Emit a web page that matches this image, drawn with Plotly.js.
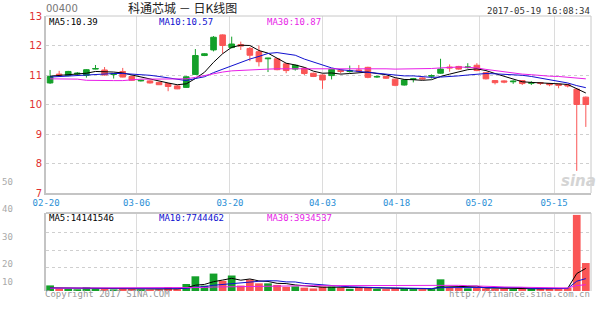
<!DOCTYPE html>
<html><head><meta charset="utf-8">
<script src="https://cdn.plot.ly/plotly-3.0.1.min.js"></script>
<style>html,body{margin:0;padding:0;background:#fff}#c{width:600px;height:327px}</style>
</head><body><div id="c"></div>
<script>
const dates = ['2017-02-20','2017-02-21','2017-02-22','2017-02-23','2017-02-24','2017-02-27','2017-02-28',
'2017-03-01','2017-03-02','2017-03-03','2017-03-06','2017-03-07','2017-03-08','2017-03-09','2017-03-10',
'2017-03-13','2017-03-14','2017-03-15','2017-03-16','2017-03-17',
'2017-03-20','2017-03-21','2017-03-22','2017-03-23','2017-03-24',
'2017-03-27','2017-03-28','2017-03-29','2017-03-30','2017-03-31',
'2017-04-03','2017-04-05','2017-04-06','2017-04-07',
'2017-04-10','2017-04-11','2017-04-12','2017-04-13',
'2017-04-18','2017-04-19','2017-04-20','2017-04-21',
'2017-04-24','2017-04-25','2017-04-26','2017-04-27','2017-04-28',
'2017-05-02','2017-05-04','2017-05-05',
'2017-05-08','2017-05-09','2017-05-10','2017-05-11','2017-05-12',
'2017-05-15','2017-05-16','2017-05-17','2017-05-18','2017-05-19'];

const open = [10.73,11.03,10.98,11.03,10.99,11.20,11.17,11.02,11.12,10.95,
10.80,10.80,10.75,10.71,10.63,10.58,11.02,11.66,11.85,12.36,
11.93,12.03,11.90,11.79,11.55,11.55,11.38,11.20,11.23,11.06,
11.00,10.98,11.16,11.12,11.17,11.26,10.93,10.95,10.86,10.66,
10.85,10.90,10.96,11.06,11.27,11.29,11.25,11.33,11.08,10.81,
10.80,10.77,10.81,10.72,10.74,10.71,10.69,10.67,10.52,10.25];
const high = [11.17,11.14,11.14,11.10,11.20,11.34,11.27,11.06,11.24,10.97,
10.84,10.82,10.77,10.73,10.65,10.96,11.88,11.74,12.32,12.38,
12.30,12.13,11.95,12.00,11.58,11.58,11.40,11.35,11.26,11.08,
11.02,11.21,11.20,11.32,11.34,11.28,10.98,10.97,10.88,10.86,
10.90,10.92,11.02,11.55,11.36,11.31,11.40,11.40,11.10,10.83,
10.82,10.82,10.83,10.79,10.76,10.73,10.71,10.69,10.55,10.27];
const low = [10.70,10.96,10.96,10.98,10.91,11.19,10.98,10.88,10.92,10.80,
10.78,10.71,10.66,10.45,10.52,10.56,11.00,11.64,11.80,11.73,
11.90,11.85,11.47,11.29,11.10,11.16,11.06,11.15,11.00,10.93,
10.53,10.85,11.05,11.08,11.10,10.89,10.90,10.87,10.62,10.64,
10.75,10.84,10.88,11.04,11.11,11.18,11.22,11.13,10.85,10.68,
10.72,10.70,10.66,10.66,10.66,10.62,10.55,10.58,7.75,9.24];
const close = [10.95,11.00,11.12,11.06,11.18,11.22,11.00,11.04,10.93,10.82,
10.82,10.73,10.67,10.61,10.53,10.94,11.66,11.72,12.28,12.00,
12.05,11.98,11.67,11.45,11.57,11.18,11.15,11.33,11.05,10.95,
10.83,11.19,11.12,11.14,11.13,10.92,10.95,10.89,10.65,10.83,
10.87,10.87,10.98,11.20,11.24,11.20,11.27,11.15,10.87,10.74,
10.76,10.79,10.71,10.74,10.72,10.67,10.65,10.63,10.00,10.00];

const ma5 = [10.96,10.98,11.01,11.03,11.06,11.12,11.12,11.10,11.07,11.00,
10.92,10.87,10.79,10.73,10.67,10.70,10.88,11.09,11.43,11.72,
11.94,12.01,12.00,11.83,11.74,11.57,11.40,11.34,11.26,11.13,
11.06,11.07,11.03,11.05,11.08,11.10,11.05,11.01,10.91,10.85,
10.84,10.82,10.84,10.95,11.03,11.10,11.18,11.21,11.15,11.05,
10.96,10.86,10.77,10.75,10.74,10.73,10.70,10.68,10.53,10.39];
const ma10 = [10.93,10.95,10.97,10.99,11.01,11.03,11.04,11.05,11.05,11.03,
11.02,10.99,10.95,10.90,10.84,10.81,10.88,10.94,11.08,11.20,
11.32,11.44,11.54,11.63,11.73,11.76,11.71,11.67,11.54,11.44,
11.32,11.24,11.18,11.15,11.11,11.08,11.06,11.02,10.98,10.97,
10.97,10.94,10.92,10.93,10.94,10.97,11.00,11.03,11.05,11.04,
11.03,11.02,10.99,10.95,10.90,10.84,10.78,10.73,10.64,10.57];
const ma30 = [10.87,10.87,10.87,10.86,10.82,10.81,10.81,10.81,10.81,10.84,
10.86,10.86,10.86,10.86,10.86,10.87,10.92,10.98,11.05,11.10,
11.14,11.16,11.18,11.19,11.20,11.21,11.21,11.21,11.22,11.22,
11.22,11.22,11.22,11.23,11.23,11.22,11.21,11.21,11.20,11.20,
11.20,11.21,11.22,11.24,11.26,11.27,11.26,11.24,11.19,11.15,
11.10,11.06,11.03,11.01,10.98,10.96,10.95,10.92,10.89,10.87];

// volume, millions of shares
const volumeM = [3.5,1.6,1.4,1.1,2.3,1.7,1.4,1.0,1.8,1.4,
1.0,0.9,1.0,2.4,1.2,4.4,9.2,3.4,10.9,6.4,
9.7,3.4,7.2,4.8,4.8,3.8,2.6,2.9,2.1,1.6,
2.7,2.7,1.9,1.4,2.2,2.2,1.4,1.2,1.7,1.5,
1.2,1.1,1.2,7.3,2.2,1.9,1.7,2.0,1.7,1.39149,
1.5,1.2,1.4,1.3,1.33689,1.9,1.8,1.90773,47.6,17.5];
const volMa5 = [2.0,1.9,1.9,1.8,1.98,1.62,1.58,1.50,1.64,1.46,
1.32,1.22,1.22,1.34,1.30,1.98,3.64,4.12,5.82,6.86,
7.92,6.76,7.52,6.30,5.98,4.80,4.64,3.78,3.24,2.60,
2.38,2.40,2.20,2.06,2.18,2.08,1.82,1.68,1.74,1.60,
1.40,1.34,1.34,2.46,2.60,2.74,2.86,3.02,1.90,1.74,
1.66,1.56,1.44,1.36,1.35,1.43,1.55,1.65,10.91,14.14];
const volMa10 = [1.8,1.8,1.8,1.8,1.8,1.75,1.75,1.7,1.7,1.72,
1.47,1.40,1.36,1.49,1.38,1.65,2.43,2.67,3.58,4.08,
4.95,5.20,5.82,6.06,6.42,6.36,5.70,5.65,4.77,4.29,
3.59,3.52,2.99,2.65,2.39,2.23,2.11,1.94,1.90,1.89,
1.74,1.58,1.51,2.10,2.10,2.07,2.10,2.18,2.18,2.17,
2.20,2.21,2.23,1.63,1.54,1.54,1.55,1.55,6.14,7.74];
const volMa30 = [1.8,1.8,1.8,1.8,1.8,1.8,1.8,1.8,1.8,1.8,
1.8,1.8,1.8,1.8,1.8,1.9,2.1,2.2,2.5,2.6,
2.9,3.0,3.1,3.2,3.3,3.3,3.3,3.35,3.35,3.36,
3.34,3.37,3.39,3.40,3.40,3.41,3.41,3.42,3.42,3.42,
3.43,3.43,3.44,3.60,3.64,3.55,3.30,3.26,2.95,2.78,
2.51,2.44,2.24,2.13,2.01,1.95,1.92,1.89,3.41,3.93];

const tickDates = ['2017-02-20','2017-03-06','2017-03-20','2017-04-03','2017-04-18','2017-05-02','2017-05-15'];
const tickText = ['02-20','03-06','03-20','04-03','04-18','05-02','05-15'];
const tickShift = [-0.44,-0.48,-0.19,0,0.15,0.24,0.5];

const stockCode = '00400';
const chartTitle = '科通芯城 － 日K线图';
const stamp = '2017-05-19 16:08:34';
const priceLegend = ['MA5:10.39','MA10:10.57','MA30:10.87'];
const volLegend = ['MA5:14141546','MA10:7744462','MA30:3934537'];
const sideLabels = ['50','40','30','20','10'];

const GREEN = '#14a02a', RED = '#fa5656';
const C_MA5 = '#000000', C_MA10 = '#1010d0', C_MA30 = '#e81ee8';
const xi = dates.map((d, i) => i);
const volColors = close.map((c, i) => c >= open[i] ? GREEN : RED);

const W = 600, H = 327, L = 46, R = 9, T = 16, B = 36;
const pw = W - L - R, ph = H - T - B;
const px = x => (x - L) / pw;
const py = y => (H - B - y) / ph;

const traces = [
  {type:'candlestick', x:xi, open:open, high:high, low:low, close:close, xaxis:'x', yaxis:'y',
   increasing:{line:{color:GREEN,width:1}, fillcolor:GREEN},
   decreasing:{line:{color:RED,width:1}, fillcolor:RED},
   whiskerwidth:0, hoverinfo:'skip', showlegend:false},
  {type:'scatter', mode:'lines', x:xi, y:ma5, line:{color:C_MA5,width:1}, xaxis:'x', yaxis:'y', showlegend:false},
  {type:'scatter', mode:'lines', x:xi, y:ma10, line:{color:C_MA10,width:1}, xaxis:'x', yaxis:'y', showlegend:false},
  {type:'scatter', mode:'lines', x:xi, y:ma30, line:{color:C_MA30,width:1}, xaxis:'x', yaxis:'y', showlegend:false},
  {type:'bar', x:xi, y:volumeM, marker:{color:volColors, line:{width:0}}, width:0.85, xaxis:'x2', yaxis:'y2', showlegend:false},
  {type:'scatter', mode:'lines', x:xi, y:volMa5, line:{color:C_MA5,width:1}, xaxis:'x2', yaxis:'y2', showlegend:false},
  {type:'scatter', mode:'lines', x:xi, y:volMa10, line:{color:C_MA10,width:1}, xaxis:'x2', yaxis:'y2', showlegend:false},
  {type:'scatter', mode:'lines', x:xi, y:volMa30, line:{color:C_MA30,width:1}, xaxis:'x2', yaxis:'y2', showlegend:false}
];

const tickvals = tickDates.map((d, k) => dates.indexOf(d) + tickShift[k]);
const mono = 'DejaVu Sans Mono, Liberation Mono, monospace';
const xr = [-0.45, 59.57];

function ann(text, x, y, opts) {
  return Object.assign({text:text, x:px(x), y:py(y), xref:'paper', yref:'paper', showarrow:false,
    xanchor:'left', yanchor:'middle', borderpad:0, font:{family:mono, size:9, color:'#000'}}, opts || {});
}

const annotations = [
  ann(stockCode, 45, 8, {font:{family:'DejaVu Sans, sans-serif', size:10, color:'#777'}}),
  ann(chartTitle, 182, 7.5, {xanchor:'center', font:{family:'Noto Sans CJK SC, sans-serif', size:12, color:'#222'}}),
  ann(stamp, 591, 11, {xanchor:'right', font:{family:mono, size:9, color:'#333'}}),
  ann(priceLegend[0], 48, 21.5, {font:{family:mono, size:9, color:C_MA5}}),
  ann(priceLegend[1], 158, 21.5, {font:{family:mono, size:9, color:C_MA10}}),
  ann(priceLegend[2], 266, 21.5, {font:{family:mono, size:9, color:C_MA30}}),
  ann(volLegend[0], 48, 218, {font:{family:mono, size:9, color:C_MA5}}),
  ann(volLegend[1], 158, 218, {font:{family:mono, size:9, color:C_MA10}}),
  ann(volLegend[2], 266, 218, {font:{family:mono, size:9, color:C_MA30}}),
  ann('Copyright 2017 SINA.COM', 44, 294, {font:{family:mono, size:9, color:'#999'}}),
  ann('http://finance.sina.com.cn', 591, 294, {xanchor:'right', font:{family:mono, size:9, color:'#999'}}),
  ann('sina', 578, 181, {xanchor:'center', font:{family:'DejaVu Sans, sans-serif', size:15, color:'#d4d4d4', weight:'bold', style:'italic'}})
];
const sideY = [182, 209, 237, 264, 282];
sideLabels.forEach((t, k) => annotations.push(ann(t, 1, sideY[k], {xanchor:'left', font:{family:mono, size:9, color:'#aaa'}})));

const layout = {
  width:W, height:H, margin:{l:L, r:R, t:T, b:B, pad:0},
  paper_bgcolor:'#fff', plot_bgcolor:'#fff', showlegend:false, boxgap:0.12,
  xaxis:{domain:[0,1], anchor:'y', range:xr, tickmode:'array', tickvals:tickvals, ticktext:tickText,
    tickfont:{family:mono, size:9, color:'#2b8fd6'}, ticks:'', showgrid:true, gridcolor:'#dcdcdc', gridwidth:1,
    showline:true, linecolor:'#c4c4c4', linewidth:2, zeroline:false, rangeslider:{visible:false}, fixedrange:true},
  yaxis:{domain:[py(193), 1], anchor:'x', range:[7,13], dtick:1, tick0:7,
    tickfont:{family:'DejaVu Sans, sans-serif', size:10, color:'#e03030'}, ticks:'', showgrid:true,
    gridcolor:'#cfcfcf', griddash:'dot', gridwidth:1, showline:true, linecolor:'#c4c4c4', linewidth:2, zeroline:false, fixedrange:true},
  xaxis2:{domain:[0,1], anchor:'y2', range:xr, matches:'x', tickmode:'array', tickvals:tickvals, showticklabels:false, ticks:'',
    showgrid:true, gridcolor:'#dcdcdc', gridwidth:1, showline:false, zeroline:false, rangeslider:{visible:false}},
  yaxis2:{domain:[0, py(213)], anchor:'x2', range:[0,48.8], tickmode:'array', tickvals:[14.4,25.65,36.9], showticklabels:false,
    ticks:'', showgrid:true, gridcolor:'#cfcfcf', griddash:'dot', gridwidth:1, showline:true, linecolor:'#c4c4c4', linewidth:2, zeroline:false},
  shapes:[
    {type:'line', xref:'paper', yref:'paper', x0:0, x1:1, y0:1, y1:1, line:{color:'#c8c8c8', width:1}},
    {type:'line', xref:'paper', yref:'paper', x0:1, x1:1, y0:py(193), y1:1, line:{color:'#c8c8c8', width:1}},
    {type:'line', xref:'paper', yref:'paper', x0:0, x1:1, y0:py(213), y1:py(213), line:{color:'#c8c8c8', width:2}},
    {type:'line', xref:'paper', yref:'paper', x0:1, x1:1, y0:0, y1:py(213), line:{color:'#c8c8c8', width:1}}
  ],
  annotations:annotations
};

Plotly.newPlot('c', traces, layout, {staticPlot:true, displayModeBar:false});
</script></body></html>
